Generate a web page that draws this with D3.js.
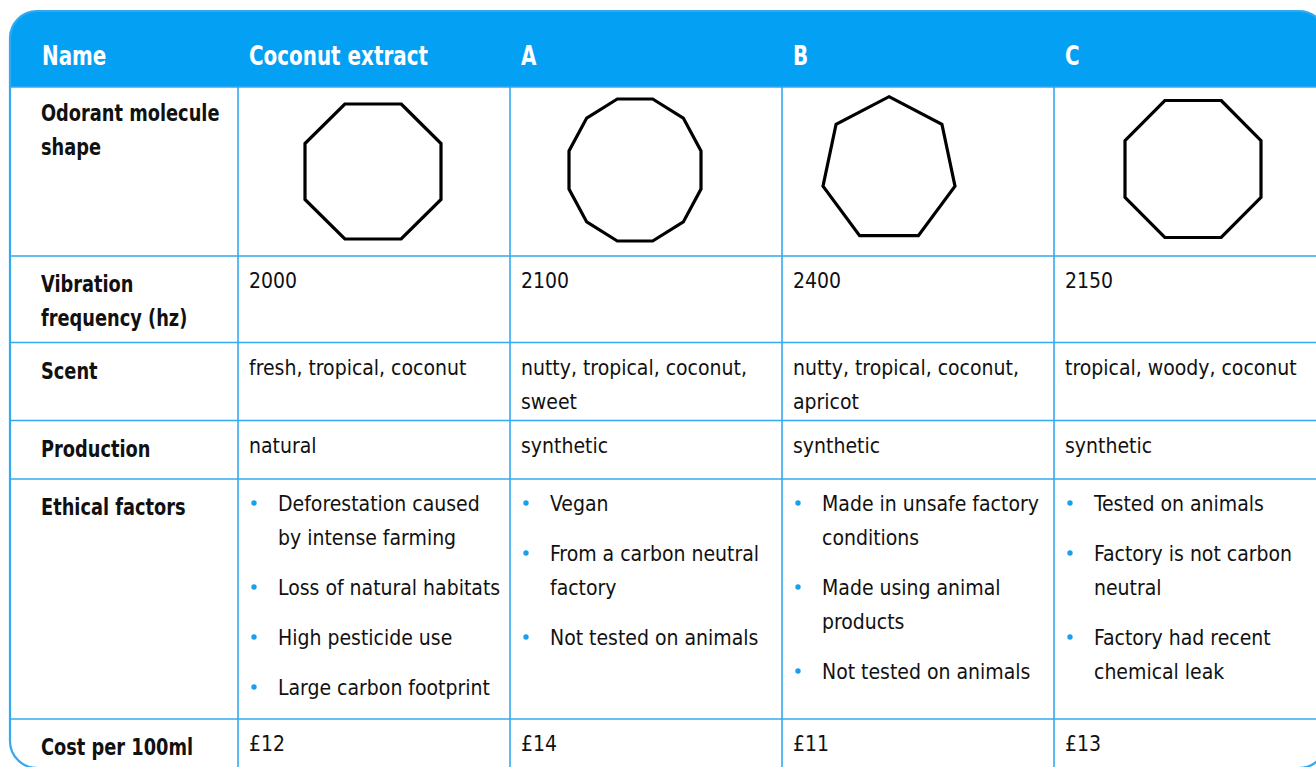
<!DOCTYPE html>
<html>
<head>
<meta charset="utf-8">
<script src="https://cdn.jsdelivr.net/npm/d3@7/dist/d3.min.js"></script>
<style>
  html, body { margin: 0; padding: 0; background: #fff; }
  svg { display: block; }
  text { font-family: "DejaVu Sans Condensed", "DejaVu Sans", sans-serif; fill: #111; }
  .head { fill: #fff; font-weight: bold; font-size: 27px; }
  .label { font-weight: bold; font-size: 23px; }
  .cell { font-size: 22px; }
</style>
</head>
<body>
<svg id="svg1" width="1316" height="767"></svg>
<script>
// column headings and row labels
var names = ["Coconut extract", "A", "B", "C"];
var firstHeading = "Name";
var rowLabels = [
  ["Odorant molecule", "shape"],
  ["Vibration", "frequency (hz)"],
  ["Scent"],
  ["Production"],
  ["Ethical factors"],
  ["Cost per 100ml"]
];

// values per compound
var shapeSides = [8, 12, 7, 8];
var frequencies = [2000, 2100, 2400, 2150];
var scents = [
  ["fresh, tropical, coconut"],
  ["nutty, tropical, coconut,", "sweet"],
  ["nutty, tropical, coconut,", "apricot"],
  ["tropical, woody, coconut"]
];
var production = ["natural", "synthetic", "synthetic", "synthetic"];
var ethical = [
  [["Deforestation caused", "by intense farming"], ["Loss of natural habitats"], ["High pesticide use"], ["Large carbon footprint"]],
  [["Vegan"], ["From a carbon neutral", "factory"], ["Not tested on animals"]],
  [["Made in unsafe factory", "conditions"], ["Made using animal", "products"], ["Not tested on animals"]],
  [["Tested on animals"], ["Factory is not carbon", "neutral"], ["Factory had recent", "chemical leak"]]
];
var costs = [12, 14, 11, 13];

// layout
var blue = "#04a0f3", lineBlue = "#33a9f2", dotBlue = "#1a9ff0";
var tblX0 = 10, tblY0 = 11, tblX1 = 1326, tblY1 = 768, radius = 27;
var rowEdges = [87, 256, 342.5, 420.5, 479, 719, tblY1];
var lineH = 34, itemGap = 16;
// horizontal squeeze so the condensed face matches the narrow original
var squeeze = {head: 0.82, label: 0.86, cell: 0.955};
// shape boxes (offset from column centre, centre y, width, height)
var shapeBox = [
  {dx: -1, cy: 171.5, w: 136, h: 135},
  {dx: -11, cy: 170, w: 132, h: 142},
  {dx: -29, cy: 166.2, w: 132, h: 139},
  {dx: 3, cy: 169, w: 136, h: 137}
];

var svg = d3.select("#svg1");

var x = d3.scaleBand().domain(names).range([238, tblX1]);

function roundedPath(x0, y0, x1, y1, r, roundBottom) {
  var p = d3.path();
  p.moveTo(x0 + r, y0);
  p.lineTo(x1 - r, y0);
  p.arcTo(x1, y0, x1, y0 + r, r);
  if (roundBottom) {
    p.lineTo(x1, y1 - r);
    p.arcTo(x1, y1, x1 - r, y1, r);
    p.lineTo(x0 + r, y1);
    p.arcTo(x0, y1, x0, y1 - r, r);
  } else {
    p.lineTo(x1, y1);
    p.lineTo(x0, y1);
  }
  p.lineTo(x0, y0 + r);
  p.arcTo(x0, y0, x0 + r, y0, r);
  p.closePath();
  return p.toString();
}

// multi-line text block, squeezed horizontally
function addText(cls, x0, y0, lines) {
  var g = svg.append("g").attr("transform", "translate(" + x0 + ",0) scale(" + squeeze[cls] + ",1)");
  var t = g.append("text").attr("class", cls);
  lines.forEach(function(l, j) {
    t.append("tspan").attr("x", 0).attr("y", y0 + j * lineH).text(l);
  });
}

// header band
svg.append("path")
  .attr("d", roundedPath(tblX0, tblY0, tblX1, rowEdges[0], radius, false))
  .attr("fill", blue);

// grid lines
var grid = svg.append("g").attr("stroke", lineBlue).attr("stroke-width", 1.6);
rowEdges.slice(0, -1).forEach(function(y) {
  grid.append("line").attr("x1", tblX0).attr("x2", tblX1).attr("y1", y).attr("y2", y);
});
names.forEach(function(n) {
  grid.append("line").attr("x1", x(n)).attr("x2", x(n)).attr("y1", rowEdges[0]).attr("y2", tblY1);
});

// outer border
svg.append("path")
  .attr("d", roundedPath(tblX0, tblY0, tblX1, tblY1, radius, true))
  .attr("fill", "none")
  .attr("stroke", lineBlue)
  .attr("stroke-width", 2.2);

// header text
addText("head", 42, 65, [firstHeading]);
names.forEach(function(n) { addText("head", x(n) + 11, 65, [n]); });

// row labels
rowLabels.forEach(function(lines, i) {
  addText("label", 41, rowEdges[i] + (i === 0 ? 34 : 36.5), lines);
});

// molecule shapes
function polygonPoints(n, box, cx) {
  var off = n % 2 === 0 ? Math.PI / n : 0;
  var pts = d3.range(n).map(function(k) {
    var a = -Math.PI / 2 + off + 2 * Math.PI * k / n;
    return [Math.cos(a), Math.sin(a)];
  });
  var xs = d3.extent(pts, function(p) { return p[0]; });
  var ys = d3.extent(pts, function(p) { return p[1]; });
  var sx = d3.scaleLinear().domain(xs).range([cx - box.w / 2, cx + box.w / 2]);
  var sy = d3.scaleLinear().domain(ys).range([box.cy - box.h / 2, box.cy + box.h / 2]);
  return pts.map(function(p) { return [sx(p[0]), sy(p[1])]; });
}

svg.selectAll(".shape").data(shapeSides).enter().append("path")
  .attr("class", "shape")
  .attr("d", function(n, i) {
    var cx = x(names[i]) + x.bandwidth() / 2 + shapeBox[i].dx;
    return "M" + polygonPoints(n, shapeBox[i], cx).join("L") + "Z";
  })
  .attr("fill", "none")
  .attr("stroke", "#000")
  .attr("stroke-width", 3.2)
  .attr("stroke-linejoin", "miter");

names.forEach(function(n, i) {
  var cx = x(n) + 11;
  addText("cell", cx, rowEdges[1] + 32.5, [String(frequencies[i])]);
  addText("cell", cx, rowEdges[2] + 32.5, scents[i]);
  addText("cell", cx, rowEdges[3] + 32.5, [production[i]]);
  addText("cell", cx, rowEdges[5] + 32.5, ["£" + costs[i]]);

  // ethical factors bullets
  var y = rowEdges[4] + 32.5;
  ethical[i].forEach(function(item) {
    svg.append("circle")
      .attr("cx", x(n) + 16)
      .attr("cy", y - 8.5)
      .attr("r", 2.7)
      .attr("fill", dotBlue);
    addText("cell", x(n) + 40, y, item);
    y += item.length * lineH + itemGap;
  });
});
</script>
</body>
</html>
